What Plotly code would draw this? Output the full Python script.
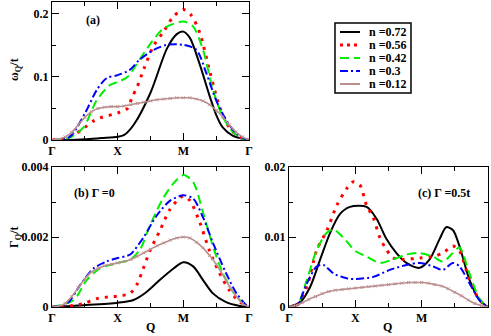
import plotly.graph_objects as go

# ---- data (Q in units of the path index: Gamma=0, X=1, M=2, Gamma=3) ----
LABELS = ["n =0.72", "n =0.56", "n =0.42", "n =0.3", "n =0.12"]
COLORS = ["#000000", "#ff0000", "#00ee00", "#0000ff", "#bc8f8f"]
DASHES = ["solid", "3px,6px", "9px,5px", "8px,3px,2px,3px", "solid"]

# panel (a): omega_Q / t
QA_072 = [0, 0.25, 0.5, 0.75, 1.0, 1.1, 1.25, 1.5, 1.75, 1.9, 2.0, 2.1, 2.25, 2.4, 2.5, 2.6, 2.75, 2.9, 3.0]
WA_072 = [0, 0, 0.001, 0.003, 0.005, 0.008, 0.025, 0.075, 0.145, 0.168, 0.172, 0.162, 0.12, 0.07, 0.04, 0.02, 0.007, 0.002, 0]
QA_056 = [0, 0.17, 0.33, 0.5, 0.63, 0.73, 1.0, 1.15, 1.22, 1.3, 1.4, 1.55, 1.7, 1.85, 2.0, 2.12, 2.25, 2.4, 2.55, 2.7, 2.85, 3.0]
WA_056 = [0, 0.002, 0.008, 0.02, 0.03, 0.035, 0.043, 0.05, 0.068, 0.085, 0.113, 0.15, 0.172, 0.196, 0.207, 0.198, 0.17, 0.11, 0.053, 0.02, 0.005, 0]
QA_042 = [0, 0.27, 0.48, 0.68, 0.88, 1.0, 1.15, 1.33, 1.5, 1.7, 2.0, 2.15, 2.3, 2.45, 2.6, 2.75, 2.9, 3.0]
WA_042 = [0, 0.004, 0.02, 0.063, 0.087, 0.092, 0.1, 0.127, 0.153, 0.177, 0.188, 0.18, 0.143, 0.08, 0.037, 0.013, 0.002, 0]
QA_030 = [0, 0.27, 0.5, 0.68, 0.83, 1.0, 1.18, 1.33, 1.55, 1.75, 2.0, 2.2, 2.35, 2.5, 2.65, 2.8, 2.95, 3.0]
WA_030 = [0, 0.005, 0.042, 0.079, 0.098, 0.103, 0.111, 0.127, 0.143, 0.151, 0.151, 0.143, 0.106, 0.063, 0.032, 0.011, 0.001, 0]
QA_012 = [i / 10 for i in range(31)]
WA_012 = [0, 0.001, 0.005, 0.012, 0.024, 0.036, 0.045, 0.05, 0.052, 0.053, 0.053,
          0.054, 0.056, 0.058, 0.06, 0.062, 0.064, 0.065, 0.066, 0.067, 0.067,
          0.067, 0.065, 0.062, 0.056, 0.047, 0.037, 0.024, 0.013, 0.005, 0]

# panel (b): Gamma_Q / t, Gamma = 0
QB_072 = [0, 0.48, 1.0, 1.24, 1.44, 1.64, 1.85, 2.0, 2.15, 2.3, 2.45, 2.65, 2.86, 3.0]
GB_072 = [0, 0.00005, 0.00012, 0.0002, 0.00043, 0.00077, 0.0011, 0.00128, 0.00116, 0.00077, 0.00039, 0.00014, 0.00003, 0]
QB_056 = [0, 0.23, 0.48, 0.68, 0.88, 1.0, 1.19, 1.29, 1.39, 1.49, 1.64, 1.8, 2.0, 2.1, 2.25, 2.4, 2.55, 2.7, 2.86, 3.0]
GB_056 = [0, 0.00002, 0.0001, 0.00024, 0.00029, 0.00031, 0.00039, 0.00063, 0.0011, 0.0016, 0.00217, 0.0028, 0.00317, 0.00304, 0.00242, 0.0016, 0.00097, 0.00048, 0.00014, 0]
QB_042 = [0, 0.08, 0.33, 0.53, 0.73, 1.0, 1.19, 1.34, 1.49, 1.69, 1.85, 2.0, 2.15, 2.3, 2.45, 2.6, 2.76, 2.91, 3.0]
GB_042 = [0, 0.00003, 0.0002, 0.00077, 0.0011, 0.00126, 0.00135, 0.00164, 0.00232, 0.0031, 0.00353, 0.00377, 0.00357, 0.0027, 0.00174, 0.00097, 0.00043, 0.0001, 0]
QB_030 = [0, 0.23, 0.43, 0.63, 0.83, 1.0, 1.19, 1.39, 1.59, 1.8, 2.0, 2.15, 2.3, 2.45, 2.65, 2.81, 2.96, 3.0]
GB_030 = [0, 0.0001, 0.00063, 0.0011, 0.0013, 0.0014, 0.0015, 0.00198, 0.0026, 0.00304, 0.00319, 0.0031, 0.00256, 0.00184, 0.00097, 0.00039, 0.00005, 0]
QB_012 = [i / 10 for i in range(31)]
GB_012 = [0, 0.00002, 0.0001, 0.0003, 0.00055, 0.0008, 0.001, 0.0011, 0.00118, 0.00122, 0.00126,
          0.0013, 0.00136, 0.00145, 0.00155, 0.00165, 0.00175, 0.00183, 0.00191, 0.00197, 0.002,
          0.00197, 0.00185, 0.00169, 0.00147, 0.00122, 0.00092, 0.0006, 0.00032, 0.0001, 0]

# panel (c): Gamma_Q / t, Gamma = 0.5t
QC_072 = [0, 0.17, 0.32, 0.47, 0.62, 0.77, 0.92, 1.17, 1.32, 1.47, 1.62, 1.77, 1.97, 2.12, 2.27, 2.37, 2.47, 2.57, 2.72, 2.87, 3.0]
GC_072 = [0, 0.0007, 0.0029, 0.0068, 0.0106, 0.0133, 0.0143, 0.0143, 0.0126, 0.0097, 0.0077, 0.0063, 0.0056, 0.0068, 0.0097, 0.0114, 0.011, 0.0087, 0.0039, 0.001, 0]
QC_056 = [0, 0.12, 0.27, 0.42, 0.57, 0.72, 0.87, 0.97, 1.07, 1.17, 1.27, 1.37, 1.47, 1.57, 1.72, 1.97, 2.17, 2.32, 2.47, 2.57, 2.72, 2.87, 3.0]
GC_056 = [0, 0.0002, 0.0029, 0.0082, 0.0109, 0.0145, 0.0169, 0.0179, 0.0174, 0.0145, 0.0128, 0.0099, 0.0082, 0.007, 0.0068, 0.007, 0.0072, 0.0077, 0.0087, 0.008, 0.0039, 0.001, 0]
QC_042 = [0, 0.12, 0.27, 0.42, 0.57, 0.67, 0.82, 1.0, 1.17, 1.37, 1.57, 1.77, 1.97, 2.17, 2.32, 2.47, 2.57, 2.72, 2.87, 3.0]
GC_042 = [0, 0.0002, 0.0039, 0.0082, 0.0106, 0.0111, 0.0099, 0.008, 0.0072, 0.0063, 0.0068, 0.0075, 0.0077, 0.0072, 0.0065, 0.0077, 0.0085, 0.0048, 0.0012, 0]
QC_030 = [0, 0.12, 0.27, 0.42, 0.52, 0.67, 0.87, 1.0, 1.27, 1.52, 1.77, 1.97, 2.17, 2.32, 2.47, 2.57, 2.72, 2.87, 3.0]
GC_030 = [0, 0.0002, 0.0034, 0.0058, 0.006, 0.0048, 0.0041, 0.004, 0.0043, 0.0053, 0.006, 0.0063, 0.0058, 0.0053, 0.0063, 0.0058, 0.0034, 0.001, 0]
QC_012 = [i / 10 for i in range(31)]
GC_012 = [0, 0.0002, 0.0006, 0.0011, 0.0015, 0.0019, 0.0022, 0.0024, 0.0025, 0.0026, 0.0027,
          0.0028, 0.0029, 0.003, 0.0031, 0.0032, 0.0033, 0.0034, 0.0035, 0.0035, 0.0035,
          0.0034, 0.0032, 0.003, 0.0026, 0.0021, 0.0016, 0.001, 0.0005, 0.0002, 0]

PANELS = [
    ("x", "y", [(QA_072, WA_072), (QA_056, WA_056), (QA_042, WA_042), (QA_030, WA_030), (QA_012, WA_012)]),
    ("x2", "y2", [(QB_072, GB_072), (QB_056, GB_056), (QB_042, GB_042), (QB_030, GB_030), (QB_012, GB_012)]),
    ("x3", "y3", [(QC_072, GC_072), (QC_056, GC_056), (QC_042, GC_042), (QC_030, GC_030), (QC_012, GC_012)]),
]

Q_TICKS = [0, 1, 2, 3]
Q_TEXT = ["Γ", "X", "M", "Γ"]
Q_MINOR = [0.5, 1.5, 2.5]

FONT = "Liberation Serif, Times New Roman, serif"
W, H = 491, 336

fig = go.Figure()
for p, (xa, ya, series) in enumerate(PANELS):
    for i, (q, v) in enumerate(series):
        brown = i == 4
        fig.add_trace(go.Scatter(
            x=q, y=v, xaxis=xa, yaxis=ya, name=LABELS[i],
            mode="lines+markers" if brown else "lines",
            line=dict(color=COLORS[i], width=1.6 if brown else (3 if i == 1 else 2),
                      dash=DASHES[i], shape="spline", smoothing=0.8),
            marker=dict(symbol="x-thin", size=3,
                        line=dict(color=COLORS[i], width=1)) if brown else None,
            showlegend=False,
        ))


def px_x(v):
    return v / W


def px_y(v):
    return 1 - v / H


axis_common = dict(
    showline=True, linecolor="black", linewidth=1, mirror="ticks",
    ticks="inside", ticklen=7, tickcolor="black", showgrid=False,
    zeroline=False, automargin=False,
    tickfont=dict(family=FONT, size=12, weight="bold", color="black"),
)


def x_axis(left, right, anchor):
    return dict(axis_common, domain=[px_x(left), px_x(right)], range=[0, 3],
                tickvals=Q_TICKS, ticktext=Q_TEXT, anchor=anchor,
                minor=dict(tickvals=Q_MINOR, ticks="inside", ticklen=4, tickcolor="black"))


def y_axis(top, bottom, rng, vals, text, minor, anchor):
    return dict(axis_common, domain=[px_y(bottom), px_y(top)], range=rng,
                tickvals=vals, ticktext=text, anchor=anchor,
                minor=dict(tickvals=minor, ticks="inside", ticklen=4, tickcolor="black"))


fig.update_layout(
    width=W, height=H,
    margin=dict(l=0, r=0, t=0, b=0),
    paper_bgcolor="white", plot_bgcolor="white",
    font=dict(family=FONT, size=12, color="black"),
    showlegend=False,
    xaxis=x_axis(52, 249, "y"),
    yaxis=y_axis(2, 140, [0, 0.219], [0, 0.1, 0.2], ["0", "0.1", "0.2"], [0.05, 0.15], "x"),
    xaxis2=x_axis(52, 249, "y2"),
    yaxis2=y_axis(167, 307, [0, 0.004], [0, 0.002, 0.004], ["0", "0.002", "0.004"],
                  [0.001, 0.003], "x2"),
    xaxis3=x_axis(289, 488, "y3"),
    yaxis3=y_axis(167, 307, [0, 0.02], [0, 0.01, 0.02], ["0", "0.01", "0.02"],
                  [0.005, 0.015], "x3"),
)

# legend box drawn by hand (plotly's own legend rows are too tall here)
shapes = [dict(type="rect", xref="paper", yref="paper",
               x0=px_x(335), x1=px_x(411), y0=px_y(93), y1=px_y(23),
               line=dict(color="black", width=1.5), fillcolor="white", layer="above")]
for i, lab in enumerate(LABELS):
    yrow = 32 + 13 * i
    shapes.append(dict(type="line", xref="paper", yref="paper",
                       x0=px_x(340), x1=px_x(360), y0=px_y(yrow), y1=px_y(yrow),
                       line=dict(color=COLORS[i], width=2 if i != 1 else 3,
                                 dash=DASHES[i] if i != 1 else "3px,4px"),
                       layer="above"))
    fig.add_annotation(
        text=f"<b>{lab}</b>", x=px_x(367), y=px_y(yrow), xref="paper", yref="paper",
        showarrow=False, xanchor="left", yanchor="middle",
        font=dict(family=FONT, size=12, color="black"),
    )
fig.update_layout(shapes=shapes)

labels = [
    ("<b>(a)</b>", 93, 20, 0),
    ("<b>(b) Γ =0</b>", 94, 193, 0),
    ("<b>(c) Γ =0.5t</b>", 444, 193, 0),
    ("<b>ω<sub>Q</sub>/t</b>", 15, 70, -90),
    ("<b>Γ<sub>Q</sub>/t</b>", 15, 237, -90),
    ("<b>Q</b>", 150, 327, 0),
    ("<b>Q</b>", 387, 327, 0),
]
for text, x, y, ang in labels:
    fig.add_annotation(
        text=text, x=px_x(x), y=px_y(y), xref="paper", yref="paper",
        showarrow=False, textangle=ang, xanchor="center", yanchor="middle",
        font=dict(family=FONT, size=12, color="black"),
    )

# the page body has a default 8px margin; drop it so the figure fills the window
fig.write_html("out.html", config={"displayModeBar": False},
               post_script="document.body.style.margin='0';")
